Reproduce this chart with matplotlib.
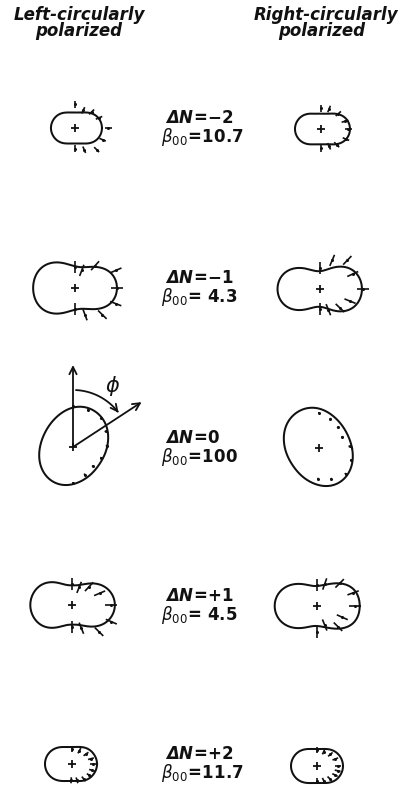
import numpy as np
import matplotlib
matplotlib.use("Agg")
import matplotlib.pyplot as plt
from matplotlib.patches import FancyArrowPatch
from matplotlib.path import Path

plt.rcParams["font.family"] = ["DejaVu Sans"]
plt.rcParams["mathtext.fontset"] = "dejavusans"

# ---------------------------------------------------------------- data
delta_n = ["-2", "-1", "0", "+1", "+2"]
beta00 = [10.7, 4.3, 100, 4.5, 11.7]

# sample angles (deg) of the fitted distributions
half_angles = [0, 15, 30, 45, 60, 75, 90, 105, 120, 135, 150, 165, 180]
full_angles = [0, 15, 30, 45, 60, 75, 90, 105, 120, 135, 150, 165,
               180, 195, 210, 225, 240, 255, 270, 285, 300, 315, 330, 345]

# fitted intensity I(theta) -- left-circular polarisation
lcp_m2_fit = [27, 26.3, 24.4, 21.3, 17.9, 16.05, 15.5, 16.05, 17.9, 20.3, 22.3, 23.6, 24]
lcp_m1_fit = [42, 40.6, 36.4, 29.7, 24.2, 21.7, 21.5, 24.7, 29, 35.3, 39.3, 41.3, 42]
lcp_0_fit = [34, 36.5, 39, 41, 42, 41.3, 39.5, 36.5, 34, 32.3, 31.5, 31.8,
             33, 35, 37.3, 39.2, 40, 39.2, 37.2, 34.8, 33, 31.8, 31.5, 32.5]
lcp_p1_fit = [42.7, 41.5, 37, 30.5, 24, 20.5, 19.5, 21, 25, 32.3, 37.5, 40.7, 41.7]
lcp_p2_fit = [25, 24.6, 23.45, 21.7, 19.6, 17.6, 17, 17.6, 19.6, 22.5, 24.9, 26.5, 27]

# fitted intensity I(theta) -- right-circular polarisation
rcp_m2_fit = [29, 28.1, 25.5, 21.5, 17.7, 15.84, 15.3, 15.84, 17.7, 20.9, 23.6, 25.4, 26]
rcp_m1_fit = [41.7, 41.2, 37.6, 31.5, 24.5, 19.5, 17.7, 19, 22.5, 30, 36.8, 41, 42.7]
rcp_0_fit = [33, 31.8, 31.5, 32.3, 34, 36.5, 39.5, 41.3, 42, 41, 39, 36.5,
             34, 32.5, 31.5, 31.8, 33, 34.8, 37.2, 39.2, 40, 39.2, 37.3, 35]
rcp_p1_fit = [42.7, 42, 38.5, 32, 25.5, 21.5, 20, 21, 25, 31, 37, 41, 42.3]
rcp_p2_fit = [26, 25.5, 24.2, 22.1, 19.6, 17.6, 17, 17.6, 19.6, 22.1, 24.2, 25.5, 26]

# measured points: angle (deg) and intensity
lcp_m2_ang = [90, 65, 44, 23, 0, -23, -45, -67, -90]
lcp_m2_val = [23.7, 19.5, 23.1, 26.1, 33.3, 30, 30.6, 23.6, 20.7]
lcp_m1_ang = [90, 69, 48, 23.3, 0, -21, -44.3, -69.5, -90]
lcp_m1_val = [21, 18.9, 30, 44.6, 42.3, 43.6, 38.2, 28.5, 20.7]
lcp_0_ang = [90, 68, 45.7, 25.6, 2.2, -21, -44, -67, -90]
lcp_0_val = [40.7, 40.2, 40.5, 36.3, 34, 30.4, 27.8, 30, 36]
lcp_p1_ang = [90, 68, 47, 23, 0, -23, -44.7, -68, -90]
lcp_p1_val = [21, 19, 25, 30, 39.3, 42.7, 38, 25, 21.7]
lcp_p2_ang = [90, 61, 35.5, 15.6, 0, -17.5, -33, -52, -73, -93]
lcp_p2_val = [15, 15.2, 17.2, 19.7, 21, 21, 20.7, 19, 17.1, 16.3]

rcp_m2_ang = [90, 68, 41.5, 18, 0, -22, -45, -65, -90]
rcp_m2_val = [21, 21.5, 23.1, 25.2, 27.3, 26.9, 22.2, 19.1, 19]
rcp_m1_ang = [90, 67, 46.4, 24.6, 0, -22, -43.5, -68, -90]
rcp_m1_val = [21, 31.1, 39.6, 36, 42.7, 32.4, 27.6, 22.3, 20]
rcp_0_ang = [90, 68.7, 47.5, 25.3, 3, -20.9, -44.3, -68.3, -91.8]
rcp_0_val = [35, 31.1, 28.1, 25.8, 30.7, 34.6, 37.2, 33.4, 31]
rcp_p1_ang = [90, 70.7, 45, 20, 0, -24, -44.6, -68, -90]
rcp_p1_val = [21, 23.3, 32, 38.4, 37.7, 27.7, 29.5, 20.5, 25.7]
rcp_p2_ang = [90, 65, 41, 21, 0, -13, -26.6, -45, -65.5, -90]
rcp_p2_val = [16, 15.8, 17.7, 19.6, 20.7, 21.2, 20.1, 17.9, 16.1, 15]

# error-bar half widths per row
row_err = [3.5, 6, 1.2, 6, 3]

# ---------------------------------------------------------------- layout
row_left_xy = [(75, 128), (75, 288), (73, 447), (72, 605), (72, 764)]
row_right_xy = [(321, 129), (320, 289), (319, 448), (317, 606), (317, 766)]
label_dn_base = [123, 283, 443, 601, 759]
label_gap = 18.5

LINE = "#111111"


def full_circle(samples):
    """Return (angles, values) around the whole circle."""
    if len(samples) == len(full_angles):
        return np.array(full_angles, float), np.array(samples, float)
    ang = np.array(half_angles, float)
    val = np.array(samples, float)
    ang_full = np.concatenate([ang, 360 - ang[-2:0:-1]])
    val_full = np.concatenate([val, val[-2:0:-1]])
    return ang_full, val_full


def fourier_curve(samples, order=8, n=721):
    ang, val = full_circle(samples)
    th = np.radians(ang)

    def design(t):
        cols = [np.ones_like(t)]
        for k in range(1, order + 1):
            cols += [np.cos(k * t), np.sin(k * t)]
        return np.stack(cols, axis=1)

    coef, *_ = np.linalg.lstsq(design(th), val, rcond=None)
    t = np.linspace(0, 2 * np.pi, n)
    return t, design(t) @ coef


def draw_panel(ax, center, fit, pts_ang, pts_val, err):
    cx, cy = center
    t, r = fourier_curve(fit)
    ax.plot(cx + r * np.cos(t), cy - r * np.sin(t), color=LINE, lw=1.45,
            solid_joinstyle="round")
    ax.plot([cx], [cy], marker="+", ms=6, mew=1.3, color=LINE)
    a = np.radians(pts_ang)
    v = np.array(pts_val, float)
    for ai, vi in zip(a, v):
        rr = np.array([vi - err, vi + err])
        ax.plot(cx + rr * np.cos(ai), cy - rr * np.sin(ai), color=LINE, lw=1.2,
                solid_capstyle="butt")
    ax.plot(cx + v * np.cos(a), cy - v * np.sin(a), "o", ms=2.2, color=LINE,
            mec="none")


fig = plt.figure(figsize=(4.04, 7.85), dpi=100)
ax = fig.add_axes([0, 0, 1, 1])
ax.set_xlim(0, 404)
ax.set_ylim(785, 0)
ax.axis("off")

left_fits = [lcp_m2_fit, lcp_m1_fit, lcp_0_fit, lcp_p1_fit, lcp_p2_fit]
left_angs = [lcp_m2_ang, lcp_m1_ang, lcp_0_ang, lcp_p1_ang, lcp_p2_ang]
left_vals = [lcp_m2_val, lcp_m1_val, lcp_0_val, lcp_p1_val, lcp_p2_val]
right_fits = [rcp_m2_fit, rcp_m1_fit, rcp_0_fit, rcp_p1_fit, rcp_p2_fit]
right_angs = [rcp_m2_ang, rcp_m1_ang, rcp_0_ang, rcp_p1_ang, rcp_p2_ang]
right_vals = [rcp_m2_val, rcp_m1_val, rcp_0_val, rcp_p1_val, rcp_p2_val]

for i in range(5):
    draw_panel(ax, row_left_xy[i], left_fits[i], left_angs[i], left_vals[i], row_err[i])
    draw_panel(ax, row_right_xy[i], right_fits[i], right_angs[i], right_vals[i], row_err[i])

    dn = delta_n[i]
    ax.text(165, label_dn_base[i],
            r"$\mathbfit{\Delta N}\!\mathbf{=}\!\mathbf{%s}$" % dn,
            fontsize=12, ha="left", va="baseline", color=LINE)
    b = beta00[i]
    btxt = ("%d" % b) if b >= 100 else ("%4.1f" % b)
    btxt = btxt.replace(" ", r"\ ")
    ax.text(161, label_dn_base[i] + label_gap,
            r"$\beta_{00}\!\mathbf{=}\!\mathbf{%s}$" % btxt,
            fontsize=12, ha="left", va="baseline", color=LINE)

# column headings
head_kw = dict(fontsize=12, fontweight="bold", fontstyle="italic",
               ha="center", va="baseline", color=LINE)
ax.text(79, 19.5, "Left-circularly", **head_kw)
ax.text(79, 36.5, "polarized", **head_kw)
ax.text(326, 19.5, "Right-circularly", **head_kw)
ax.text(322, 36.5, "polarized", **head_kw)

# definition of the angle phi on the Delta N = 0 panel
cx, cy = row_left_xy[2]
arrow_len = 82
phi_dir = 33.2
arr_kw = dict(arrowstyle="->", lw=1.3, color=LINE, shrinkA=0, shrinkB=0,
              mutation_scale=13)
ax.annotate("", xy=(cx, cy - arrow_len), xytext=(cx, cy), arrowprops=arr_kw)
ax.annotate("", xy=(cx + arrow_len * np.cos(np.radians(phi_dir)),
                    cy - arrow_len * np.sin(np.radians(phi_dir))),
            xytext=(cx, cy), arrowprops=arr_kw)
arc_t = np.radians(np.linspace(87, 37, 40))
arc_r = 57
arc = Path(np.column_stack([cx + arc_r * np.cos(arc_t), cy - arc_r * np.sin(arc_t)]))
ax.add_patch(FancyArrowPatch(path=arc, arrowstyle="->", lw=1.3, color=LINE,
                             mutation_scale=12, shrinkA=0, shrinkB=0))
ax.text(cx + 40, cy - 61, r"$\phi$", fontsize=15, ha="center", va="center",
        color=LINE)

fig.savefig("out.png", dpi=100, facecolor="white")
